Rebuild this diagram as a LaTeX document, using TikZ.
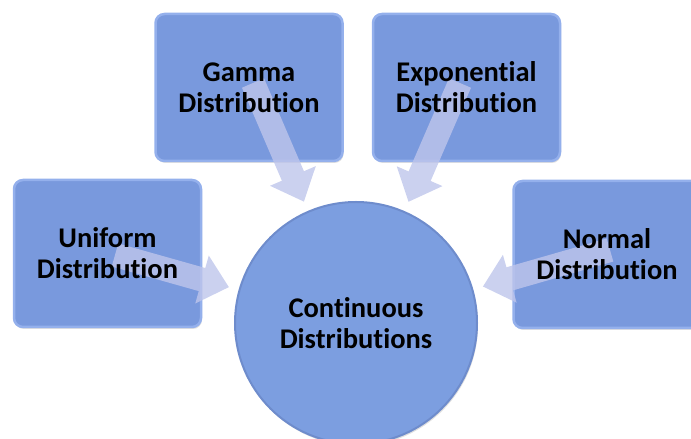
\documentclass[tikz,border=0pt]{standalone}
\usepackage{fontspec}
\setmainfont{Carlito}[RawFeature=-liga]
\usepackage{xcolor}
\usetikzlibrary{arrows.meta}
\usetikzlibrary{positioning, shadows}

\definecolor{boxfill}{RGB}{121,153,221}
\definecolor{boxrim}{RGB}{148,176,236}
\definecolor{hubfill}{RGB}{124,158,224}
\definecolor{hubrim}{RGB}{110,140,204}
\definecolor{flowfill}{RGB}{190,197,235}

\begin{document}
\begin{tikzpicture}[
        x=1pt, y=1pt,
        % 
        dist node/.style={
            rectangle,
            rounded corners=9pt,
            minimum width=187pt,
            minimum height=147pt,
            fill=boxfill,
            draw=boxrim,
            line width=2.5pt,
            drop shadow={opacity=0.25, shadow xshift=1pt, shadow yshift=-2pt},
        },
        % 
        hub node/.style={
            circle,
            minimum size=242pt,
            fill=hubfill,
            draw=hubrim,
            line width=2pt,
            drop shadow={opacity=0.25, shadow xshift=1pt, shadow yshift=-2pt},
        },
        label text/.style={
            font=\fontsize{28.5}{31}\selectfont\bfseries,
            align=center,
            text=black,
        },
        flow edge/.style={draw=flowfill, fill=flowfill, line width=24pt,
            -{Triangle[width=48pt, length=28pt]}, shorten >=10pt}
        ]

        \useasboundingbox (0,0) rectangle (691,439);

        % Vertices

        \node[dist node] (uniform) at (107.5,185.5) {};
        \node[dist node] (gamma) at (249,351.5) {};
        \node[dist node] (expo) at (466.5,351.5) {};
        \node[dist node] (normal) at (607,184.5) {};
        \node[hub node] (cont) at (356,116) {};

        \coordinate (uniform-in) at (115,184);
        \coordinate (gamma-in) at (253,356);
        \coordinate (expo-in) at (460,356);
        \coordinate (normal-in) at (610,189);

        % Edges

        \begin{scope}[transparency group, opacity=0.8]
        \draw[flow edge] (uniform-in) to (cont);
        \draw[flow edge] (gamma-in) to (cont);
        \draw[flow edge] (expo-in) to (cont);
        \draw[flow edge] (normal-in) to (cont);
        \end{scope}

        % Labels

        \node[label text] (uniform-txt) at (uniform) {Uniform\\Distribution};
        \node[label text] (gamma-txt) at (gamma) {Gamma\\Distribution};
        \node[label text] (expo-txt) at (expo) {Exponential\\Distribution};
        \node[label text] (normal-txt) at (normal) {Normal\\Distribution};
        \node[label text] (cont-txt) at (cont) {Continuous\\Distributions};
        % 
\end{tikzpicture}
\end{document}
